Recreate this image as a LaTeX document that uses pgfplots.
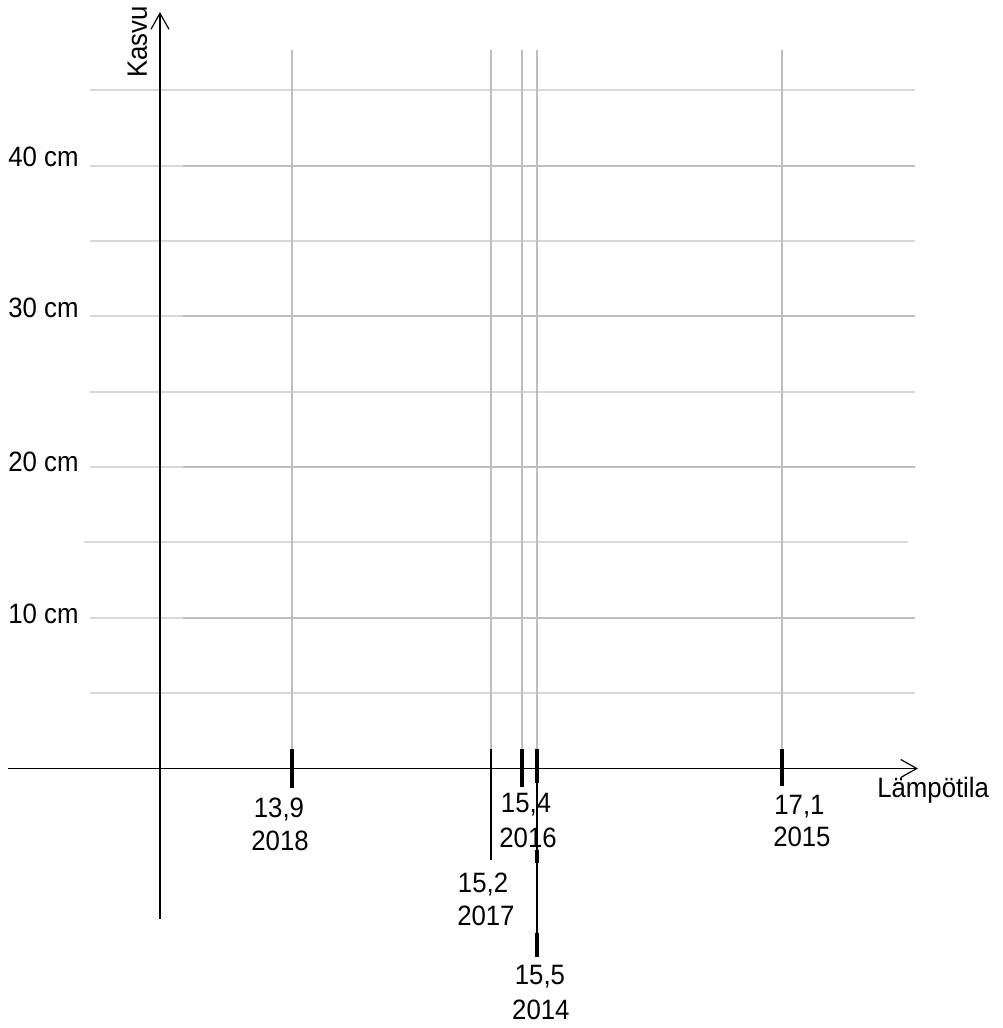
\documentclass[border=0pt]{standalone}
\usepackage{fontspec}
\setmainfont[FakeStretch=0.92]{Liberation Sans}
\usepackage{pgfplots}
\pgfplotsset{compat=1.18}
\usetikzlibrary{arrows.meta}

\definecolor{gridD}{RGB}{190,190,190}
\definecolor{gridL}{RGB}{216,216,216}

\begin{document}
\begin{tikzpicture}[font=\fontsize{14}{16.8}\selectfont]
\begin{axis}[
  width=501pt, height=514pt, scale only axis,
  xmin=11.993, xmax=18.538,
  ymin=-17.22, ymax=51.0,
  hide axis, clip=false,
  every axis plot/.append style={no marks},
]
% horizontal grid (cm)
\addplot[gridL, line width=1pt] coordinates {(12.581,45) (17.969,45)};
\addplot[gridL, line width=1pt] coordinates {(12.581,35) (17.969,35)};
\addplot[gridL, line width=1pt] coordinates {(12.581,25) (17.969,25)};
\addplot[gridL, line width=1pt] coordinates {(12.542,15) (17.924,15)};
\addplot[gridL, line width=1pt] coordinates {(12.581,5) (17.969,5)};
\addplot[gridL, line width=1pt] coordinates {(12.581,40) (13.188,40)};
\addplot[gridL, line width=1pt] coordinates {(12.581,30) (13.188,30)};
\addplot[gridL, line width=1pt] coordinates {(12.581,20) (13.188,20)};
\addplot[gridL, line width=1pt] coordinates {(12.581,10) (13.188,10)};
\addplot[gridD, line width=1pt] coordinates {(13.188,40) (17.969,40)};
\addplot[gridD, line width=1pt] coordinates {(13.188,30) (17.969,30)};
\addplot[gridD, line width=1pt] coordinates {(13.188,20) (17.969,20)};
\addplot[gridD, line width=1pt] coordinates {(13.188,10) (17.969,10)};
% vertical grid at the temperatures
\addplot[gridD, line width=1pt] coordinates {(13.9,47.7) (13.9,1.29)};
\addplot[gridD, line width=1pt] coordinates {(15.2,47.7) (15.2,1.29)};
\addplot[gridD, line width=1pt] coordinates {(15.4,47.7) (15.4,1.29)};
\addplot[gridD, line width=1pt] coordinates {(15.5,47.7) (15.5,1.29)};
\addplot[gridD, line width=1pt] coordinates {(17.1,47.7) (17.1,1.29)};
% axes
\addplot[black, line width=0.8pt, -{Straight Barb[length=8pt,width=9pt,line width=0.6pt]}]
  coordinates {(12.045,0) (17.989,0)};
\addplot[black, line width=0.8pt, -{Straight Barb[length=8pt,width=9pt,line width=0.6pt]}]
  coordinates {(13.038,-9.99) (13.038,50.2)};
% ticks
\addplot[black, line width=2pt] coordinates {(13.9,1.29) (13.9,-1.29)};
\addplot[black, line width=1.3pt] coordinates {(15.2,1.29) (15.2,-6.07)};
\addplot[black, line width=2pt] coordinates {(15.4,1.29) (15.4,-1.23)};
\addplot[black, line width=1.3pt] coordinates {(15.5,1.29) (15.5,-12.51)};
\addplot[black, line width=2pt] coordinates {(15.5,1.29) (15.5,-0.96)};
\addplot[black, line width=2pt] coordinates {(15.5,-5.41) (15.5,-6.27)};
\addplot[black, line width=2pt] coordinates {(15.5,-10.92) (15.5,-12.51)};
\addplot[black, line width=2pt] coordinates {(17.1,1.29) (17.1,-1.16)};
% tick labels
\node[anchor=base] at (axis cs:13.815,-3.25) {13,9};
\node[anchor=base] at (axis cs:13.822,-5.44) {2018};
\node[anchor=base] at (axis cs:15.148,-8.23) {15,2};
\node[anchor=base] at (axis cs:15.167,-10.42) {2017};
\node[anchor=base] at (axis cs:15.429,-2.92) {15,4};
\node[anchor=base] at (axis cs:15.442,-5.24) {2016};
\node[anchor=base] at (axis cs:15.520,-14.33) {15,5};
\node[anchor=base] at (axis cs:15.526,-16.66) {2014};
\node[anchor=base] at (axis cs:17.215,-3.02) {17,1};
\node[anchor=base] at (axis cs:17.231,-5.15) {2015};
\node[anchor=base west, inner sep=0pt] at (axis cs:12.045,39.98) {40 cm};
\node[anchor=base west, inner sep=0pt] at (axis cs:12.045,29.90) {30 cm};
\node[anchor=base west, inner sep=0pt] at (axis cs:12.045,19.68) {20 cm};
\node[anchor=base west, inner sep=0pt] at (axis cs:12.045,9.65) {10 cm};
% axis names
\node[anchor=base west, rotate=90, inner sep=0pt] at (axis cs:12.953,45.82) {Kasvu};
\node[anchor=base west, inner sep=0pt] at (axis cs:17.721,-1.92) {Lämpötila};
\path (rel axis cs:0,0) rectangle (rel axis cs:1,1);
\end{axis}
\end{tikzpicture}
\end{document}
